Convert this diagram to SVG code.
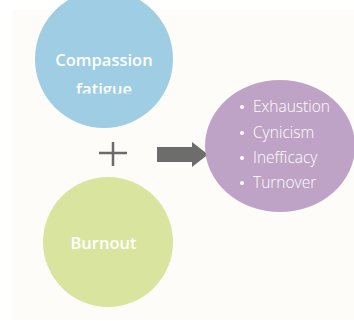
<svg xmlns="http://www.w3.org/2000/svg" width="354" height="321" viewBox="0 0 354 321">
  <style>
    .label { font-family: "Open Sans", "Liberation Sans", sans-serif; fill: #ffffff; text-anchor: middle; font-size: 16.5px; font-weight: 600; }
    .item { font-family: "Open Sans", "Liberation Sans", sans-serif; fill: #ffffff; font-size: 15.5px; font-weight: 300; }
    .dot { fill: #ffffff; }
  </style>
  <defs>
    <clipPath id="cfClip">
      <rect x="0" y="0" width="354" height="93.5"/>
    </clipPath>
  </defs>
  <rect x="0" y="0" width="354" height="321" fill="#ffffff"/>
  <rect x="13" y="10" width="341" height="310" fill="#fdfcf8"/>

  <g id="compassion-fatigue">
    <circle cx="104" cy="59" r="69" fill="#9fcde4"/>
    <g clip-path="url(#cfClip)">
      <text class="label" x="104" y="66">Compassion</text>
      <text class="label" x="104" y="95">fatigue</text>
    </g>
  </g>

  <g id="plus">
    <path d="M99 153 H127 M113 142 V166" stroke="#6b6b6b" stroke-width="2.5" fill="none"/>
  </g>

  <g id="burnout">
    <circle cx="108" cy="242" r="65" fill="#d9e59e"/>
    <text class="label" x="103.5" y="249">Burnout</text>
  </g>

  <g id="connectors">
    <path d="M157 147 H192 V142 L208 154.5 L192 167 V162 H157 Z" fill="#6d6d6d"/>
  </g>

  <g id="outcomes">
    <ellipse cx="280" cy="146" rx="75" ry="66" fill="#bfa3c6"/>
    <circle class="dot" cx="242" cy="107" r="2"/>
    <text class="item" x="253" y="112">Exhaustion</text>
    <circle class="dot" cx="242" cy="133" r="2"/>
    <text class="item" x="253" y="138">Cynicism</text>
    <circle class="dot" cx="242" cy="158" r="2"/>
    <text class="item" x="253" y="163">Inefficacy</text>
    <circle class="dot" cx="242" cy="183" r="2"/>
    <text class="item" x="253" y="188">Turnover</text>
  </g>
</svg>
